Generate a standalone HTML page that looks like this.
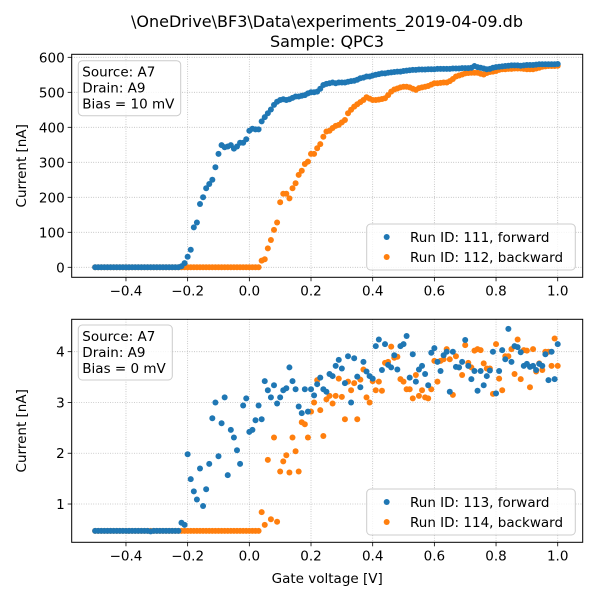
<!DOCTYPE html>
<html><head><meta charset="utf-8"><style>
body{margin:0;background:#fff}
svg{display:block;font-family:"DejaVu Sans","Liberation Sans",sans-serif}
</style></head><body>
<svg id="fig" width="600" height="600" viewBox="0 0 600 600">
<rect width="600" height="600" fill="#fff"/>
<text x="327" y="27" text-anchor="middle" font-size="16">\OneDrive\BF3\Data\experiments_2019-04-09.db</text>
<text x="327" y="47" text-anchor="middle" font-size="16">Sample: QPC3</text>
<g id="top"></g>
<g id="bot"></g>
</svg>
<script>
const xStart=-0.5, xStep=0.01, nPts=151;
const xTicks=[-0.4,-0.2,0.0,0.2,0.4,0.6,0.8,1.0];
const xTickLabels=["\u22120.4","\u22120.2","0.0","0.2","0.4","0.6","0.8","1.0"];
const topYTicks=[0,100,200,300,400,500,600];
const botYTicks=[1,2,3,4];
const run111=[0,0,0,0,0,0,0,0,0,0,0,0,0,0,0,0,0,0,0,0,0,0,0,0,0,0,0,0,
3,12,30,50,114,128,181,200,226,238,250,286,324,349,343,345,349,339,345,356,356,366,390,396,394,394,417,429,440,451,464,473,478,480,478,480,484,488,488,490,492,497,500,500,502,510,521,524,526,528,526,528,528,528,530,532,533,536,540,542,545,545,548,550,552,554,554,556,557,558,559,559,561,562,563,564,564,565,565,565,566,566,566,567,567,567,567,567,568,568,568,569,569,569,570,575,572,570,568,566,567,570,572,573,574,575,576,577,577,577,576,577,578,578,578,579,580,580,580,580,580,580,581];
const run112=[0,0,0,0,0,0,0,0,0,0,0,0,0,0,0,0,0,0,0,0,0,0,0,0,0,0,0,0,0,0,0,0,0,0,0,0,0,0,0,0,0,0,0,0,0,0,0,0,0,0,0,0,0,0,
19,23,54,78,107,128,186,210,210,197,226,240,264,276,295,302,324,324,340,352,373,388,390,398,404,407,414,421,440,450,459,466,472,478,486,482,478,478,479,481,483,492,502,508,511,514,516,516,514,510,507,512,514,516,518,522,526,526,527,528,528,532,538,545,548,551,554,555,556,556,556,553,551,555,558,559,561,564,566,566,567,567,568,568,568,567,566,566,566,568,570,573,574,575,575,575,576];
const run113=[0.47,0.47,0.47,0.47,0.47,0.47,0.47,0.47,0.47,0.47,0.47,0.47,0.47,0.47,0.47,0.47,0.47,0.47,0.46,0.47,0.47,0.47,0.47,0.47,0.47,0.47,0.47,0.47,
0.63,0.59,1.98,1.49,1.25,1.09,1.70,0.96,1.29,1.79,2.69,3.0,1.94,2.59,3.10,1.57,2.46,2.31,2.06,1.79,2.94,3.08,2.42,2.46,2.65,2.94,2.67,3.42,3.24,3.10,3.34,2.98,3.10,3.24,3.28,3.69,3.42,3.26,2.92,2.79,3.26,2.82,3.26,3.14,3.36,3.49,3.26,3.21,3.56,3.52,3.72,3.84,3.67,3.38,3.91,3.0,3.87,3.51,
3.30,3.80,3.61,3.52,3.47,4.11,4.24,3.64,4.15,3.74,3.69,3.93,3.65,4.11,4.15,4.31,3.49,3.95,3.41,3.65,3.72,3.56,3.34,3.98,4.07,3.80,3.62,3.93,4.0,3.21,4.0,3.70,3.69,3.80,4.23,3.72,3.46,3.62,3.23,3.62,3.34,3.52,3.63,4.0,3.18,3.62,4.03,3.85,4.45,3.80,4.11,4.09,3.99,3.72,3.76,3.70,3.72,3.64,3.76,3.72,3.95,3.44,4.0,3.46,4.15];
const run114=[0.47,0.47,0.47,0.47,0.47,0.47,0.47,0.47,0.47,0.47,0.47,0.47,0.47,0.47,0.47,0.47,0.47,0.47,0.47,0.47,0.47,0.47,0.47,0.47,0.47,0.47,0.47,0.47,0.47,0.47,0.47,0.47,0.47,0.47,0.47,0.47,0.47,0.47,0.47,0.47,0.47,0.47,0.47,0.47,0.47,0.47,0.47,0.47,0.47,0.47,0.47,0.47,0.47,0.47,
0.84,0.59,1.87,0.70,2.31,0.65,1.64,1.84,1.96,1.62,2.31,2.04,1.64,2.61,2.57,2.31,2.82,3.0,3.44,2.85,2.34,3.06,3.13,2.98,3.13,3.47,3.11,2.67,3.41,3.24,3.38,2.67,
3.45,3.65,3.10,3.0,3.42,3.24,3.41,3.23,3.78,3.80,4.10,3.88,3.90,3.46,3.41,3.26,3.26,3.08,3.54,3.13,3.24,3.10,3.08,3.26,3.82,3.41,3.82,3.85,4.05,3.85,3.15,3.91,3.69,3.54,4.13,3.78,3.69,4.02,4.05,4.03,3.77,3.67,3.67,3.17,4.15,3.47,3.24,3.91,3.91,4.05,3.56,4.24,3.46,4.03,4.02,3.30,4.05,3.61,3.77,3.64,4.0,4.0,3.72,4.26,3.72];

const NS="http://www.w3.org/2000/svg";
function mk(tag,attrs,parent){const e=document.createElementNS(NS,tag);for(const k in attrs)e.setAttribute(k,attrs[k]);parent.appendChild(e);return e;}
const L=71.7,R=582.7,xmin=-0.576,xmax=1.081;
const xs=v=>L+(v-xmin)/(xmax-xmin)*(R-L);

function panel(g,T,B,ymin,ymax,yTicks,yFmt,s1,s2,n1,n2,info,box,leg,showX){
  const ys=v=>B-(v-ymin)/(ymax-ymin)*(B-T);
  xTicks.forEach((t,i)=>{
    const gl=mk('line',{x1:xs(t),x2:xs(t),y1:T,y2:B,stroke:'#b0b0b0','stroke-width':0.8,'stroke-dasharray':'0.8,1.6'},g);
    
    
    const tk=mk('line',{x1:xs(t),x2:xs(t),y1:B,y2:B+4,stroke:'#000','stroke-width':0.8},g);
    
    
    const tl=mk('text',{x:xs(t),y:B+18,'text-anchor':'middle','font-size':13.5},g);
    tl.textContent=xTickLabels[i];
    
    
  });
  yTicks.forEach(t=>{
    const gl=mk('line',{x1:L,x2:R,y1:ys(t),y2:ys(t),stroke:'#b0b0b0','stroke-width':0.8,'stroke-dasharray':'0.8,1.6'},g);
    
    
    const tk=mk('line',{x1:L-4,x2:L,y1:ys(t),y2:ys(t),stroke:'#000','stroke-width':0.8},g);
    
    
    const tl=mk('text',{x:L-7,y:ys(t)+5,'text-anchor':'end','font-size':13.5},g);
    tl.textContent=yFmt(t);
    
    
  });
  [[s2,'#ff7f0e',n2],[s1,'#1f77b4',n1]].forEach(([arr,col,nm])=>{
    const sg=mk('g',{fill:col},g);
    
    
    arr.forEach((v,i)=>{
      const c=mk('circle',{cx:xs(xStart+i*xStep),cy:ys(v),r:3},sg);
      
      
    });
  });
  const fr=mk('rect',{x:L,y:T,width:R-L,height:B-T,fill:'none',stroke:'#000','stroke-width':1},g);
  
  
  const yl=mk('text',{x:0,y:0,'text-anchor':'middle','font-size':13.5,transform:`translate(26,${(T+B)/2}) rotate(-90)`},g);
  yl.textContent='Current [nA]';
  
  
  const ib=mk('g',{},g);
  
  
  mk('rect',{x:box[0],y:box[1],width:box[2],height:box[3],rx:4,fill:'#fff','fill-opacity':0.8,stroke:'#ccc','stroke-width':1},ib);
  info.forEach((s,i)=>{const t=mk('text',{x:box[0]+4,y:box[1]+16+i*16,'font-size':13.5},ib);t.textContent=s;});
  const lg=mk('g',{},g);
  
  
  mk('rect',{x:366.7,y:leg,width:208.6,height:46,rx:4,fill:'#fff','fill-opacity':0.8,stroke:'#ccc','stroke-width':1},lg);
  [[n1,'#1f77b4'],[n2,'#ff7f0e']].forEach(([nm,col],i)=>{
    const e=mk('g',{},lg);
    
    
    mk('circle',{cx:386.7,cy:leg+13+i*20,r:3,fill:col},e);
    const t=mk('text',{x:410,y:leg+18+i*20,'font-size':13.5},e);t.textContent=nm;
  });
  if(showX){
    const xl=mk('text',{x:(L+R)/2,y:583,'text-anchor':'middle','font-size':13.5},g);
    xl.textContent='Gate voltage [V]';
    
    
  }
}
panel(document.getElementById('top'),54.3,277.3,-28.6,608.6,topYTicks,t=>String(t),run111,run112,
 'Run ID: 111, forward','Run ID: 112, backward',['Source: A7','Drain: A9','Bias = 10 mV'],[78.3,60.7,102.4,55],224,false);
panel(document.getElementById('bot'),319.3,542.3,0.246,4.638,botYTicks,t=>String(t),run113,run114,
 'Run ID: 113, forward','Run ID: 114, backward',['Source: A7','Drain: A9','Bias = 0 mV'],[78.3,325,94,55],489,true);
</script>
</body></html>
